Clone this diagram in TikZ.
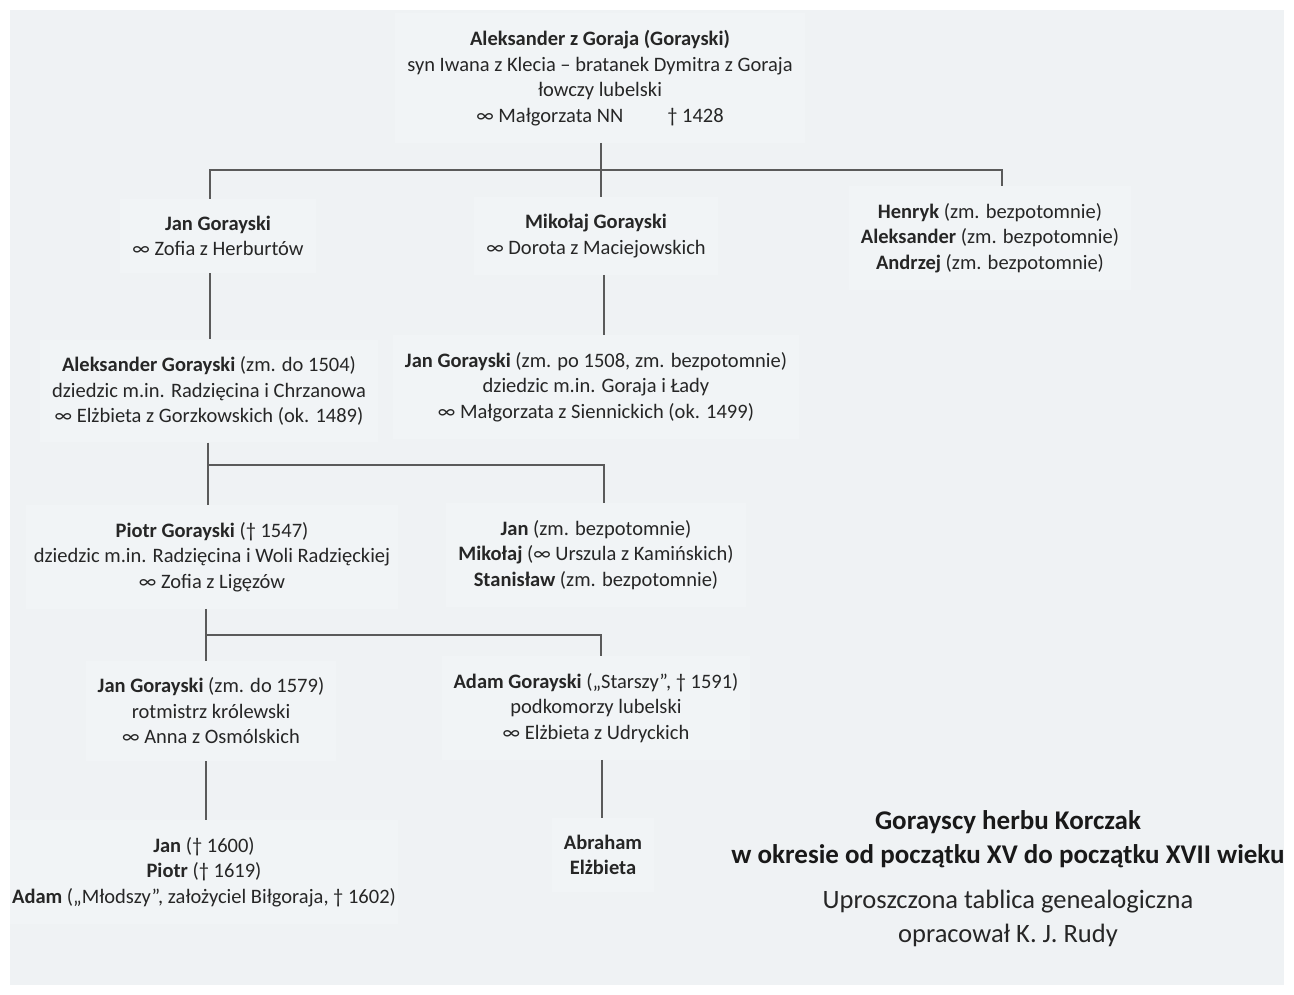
\documentclass[tikz,border=0pt]{standalone}
\usepackage{fontspec}
\setmainfont{Carlito}
\usetikzlibrary{positioning}
\definecolor{panel}{HTML}{EFF2F4}
\definecolor{boxfill}{HTML}{F1F4F6}
\definecolor{linegray}{HTML}{5A5A5A}

\begin{document}
\begin{tikzpicture}[x=1pt,y=-1pt,
    person/.style={fill=boxfill, align=center, inner xsep=12pt, inner ysep=17pt,
      text=black!85, font=\fontsize{20.5}{25.5}\selectfont},
    link/.style={draw=linegray, line width=1.1pt}]
  \useasboundingbox (0,0) rectangle (1294,995);
  \fill[panel] (10,10) rectangle (1284,985);

  % generations
  \node[person] (top)   at (600,78)  {\textbf{Aleksander z Goraja (Gorayski)}\\ syn Iwana z Klecia – bratanek Dymitra z Goraja\\ łowczy lubelski\\ ∞ Małgorzata NN\hspace{44pt}† 1428};
  \node[person] (jan1)  at (218,236) {\textbf{Jan Gorayski}\\ ∞ Zofia z Herburtów};
  \node[person] (mik)   at (596,236) {\textbf{Mikołaj Gorayski}\\ ∞ Dorota z Maciejowskich};
  \node[person] (hen)   at (990,238) {\textbf{Henryk} (zm. bezpotomnie)\\ \textbf{Aleksander} (zm. bezpotomnie)\\ \textbf{Andrzej} (zm. bezpotomnie)};
  \node[person] (alek2) at (209,391) {\textbf{Aleksander Gorayski} (zm. do 1504)\\ dziedzic m.in. Radzięcina i Chrzanowa\\ ∞ Elżbieta z Gorzkowskich (ok. 1489)};
  \node[person] (jan2)  at (596,387) {\textbf{Jan Gorayski} (zm. po 1508, zm. bezpotomnie)\\ dziedzic m.in. Goraja i Łady\\ ∞ Małgorzata z Siennickich (ok. 1499)};
  \node[person, inner xsep=8pt] (piotr) at (212,557) {\textbf{Piotr Gorayski} († 1547)\\ dziedzic m.in. Radzięcina i Woli Radzięckiej\\ ∞ Zofia z Ligęzów};
  \node[person] (bros2) at (596,555) {\textbf{Jan} (zm. bezpotomnie)\\ \textbf{Mikołaj} (∞ Urszula z Kamińskich)\\ \textbf{Stanisław} (zm. bezpotomnie)};
  \node[person] (jan3)  at (211,711) {\textbf{Jan Gorayski} (zm. do 1579)\\ rotmistrz królewski\\ ∞ Anna z Osmólskich};
  \node[person] (adam)  at (596,708) {\textbf{Adam Gorayski} („Starszy”, † 1591)\\ podkomorzy lubelski\\ ∞ Elżbieta z Udryckich};
  \node[person, inner xsep=2pt] (jan4) at (204,872) {\textbf{Jan} († 1600)\\ \textbf{Piotr} († 1619)\\ \textbf{Adam} („Młodszy”, założyciel Biłgoraja, † 1602)};
  \node[person] (abr)   at (603,855) {\textbf{Abraham}\\ \textbf{Elżbieta}};

  % title
  \node[align=center, text=black!90, font=\fontsize{27}{34}\selectfont\bfseries] (title) at (1008,839)
    {Gorayscy herbu Korczak\\ w okresie od początku XV do początku XVII wieku};
  \node[align=center, text=black!85, font=\fontsize{26.5}{34}\selectfont] (sub) at (1008,918)
    {Uproszczona tablica genealogiczna\\ opracował K. J. Rudy};

  % lines of descent
  \coordinate (fork1) at (601,170);
  \coordinate (fork2) at (208,465);
  \coordinate (fork3) at (206,635);
  \draw[link] (top.south -| fork1) -- (fork1 |- mik.north);
  \draw[link] ([xshift=-8pt]jan1.north) |- (fork1) -| ([xshift=12pt]hen.north);
  \draw[link] ([xshift=-8pt]jan1.south) -- ([xshift=-8pt]jan1.south |- alek2.north);
  \draw[link] ([xshift=8pt]mik.south) -- ([xshift=8pt]mik.south |- jan2.north);
  \draw[link] (fork2 |- alek2.south) -- (fork2 |- piotr.north);
  \draw[link] (fork2) -| ([xshift=8pt]bros2.north);
  \draw[link] (fork3 |- piotr.south) -- (fork3 |- jan3.north);
  \draw[link] (fork3) -| ([xshift=5pt]adam.north);
  \draw[link] ([xshift=-5pt]jan3.south) -- ([xshift=-5pt]jan3.south |- jan4.north);
  \draw[link] ([xshift=6pt]adam.south) -- ([xshift=6pt]adam.south |- abr.north);
\end{tikzpicture}
\end{document}
